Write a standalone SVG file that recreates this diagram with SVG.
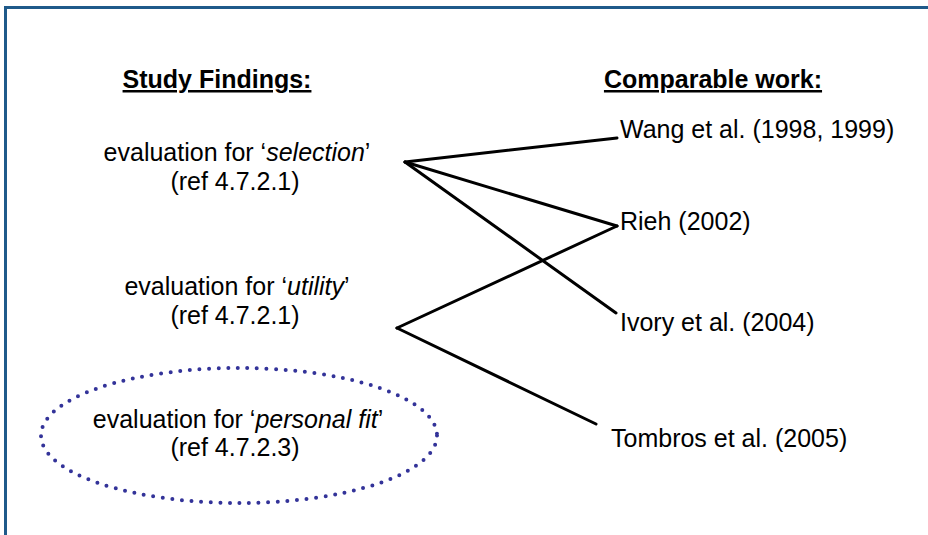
<svg xmlns="http://www.w3.org/2000/svg" width="928" height="535" viewBox="0 0 928 535">
  <style>
    text { font-family: "Liberation Sans", Arial, sans-serif; font-size: 25px; fill: #000; }
    .head { font-weight: bold; text-decoration: underline; }
    .mid { text-anchor: middle; }
    .link { stroke: #000; stroke-width: 3; fill: none; stroke-linecap: round; }
    .frame { stroke: #1f5a8a; stroke-width: 3; fill: none; }
    .focus { stroke: #333399; stroke-width: 4; fill: none; stroke-dasharray: 0 9.6; stroke-linecap: round; }
  </style>
  <rect width="928" height="535" fill="#fff"/>
  <path class="frame" d="M5.5,535 V7.5 H928"/>

  <g id="heading-findings"><text class="head mid" x="217" y="88">Study Findings:</text></g>
  <g id="heading-comparable"><text class="head mid" x="713" y="88">Comparable work:</text></g>

  <g id="finding-selection">
    <text class="mid" x="237" y="161">evaluation for ‘<tspan font-style="italic">selection</tspan>’</text>
    <text class="mid" x="235" y="190">(ref 4.7.2.1)</text>
  </g>
  <g id="finding-utility">
    <text class="mid" x="237" y="295">evaluation for ‘<tspan font-style="italic">utility</tspan>’</text>
    <text class="mid" x="235" y="324">(ref 4.7.2.1)</text>
  </g>
  <g id="finding-personal-fit">
    <ellipse class="focus" cx="239" cy="435.5" rx="198" ry="67.5"/>
    <text class="mid" x="238" y="428">evaluation for ‘<tspan font-style="italic">personal fit</tspan>’</text>
    <text class="mid" x="235" y="456">(ref 4.7.2.3)</text>
  </g>

  <g id="work-wang"><text x="620" y="138">Wang et al. (1998,  1999)</text></g>
  <g id="work-rieh"><text x="620" y="230">Rieh (2002)</text></g>
  <g id="work-ivory"><text x="620" y="331">Ivory et al. (2004)</text></g>
  <g id="work-tombros"><text x="611" y="447">Tombros et al. (2005)</text></g>

  <g id="connectors">
    <line class="link" x1="405" y1="162" x2="617" y2="138"/>
    <line class="link" x1="405" y1="162" x2="617" y2="226"/>
    <line class="link" x1="405" y1="162" x2="616" y2="313"/>
    <line class="link" x1="397" y1="328" x2="617" y2="226"/>
    <line class="link" x1="397" y1="328" x2="596" y2="424"/>
  </g>
</svg>
